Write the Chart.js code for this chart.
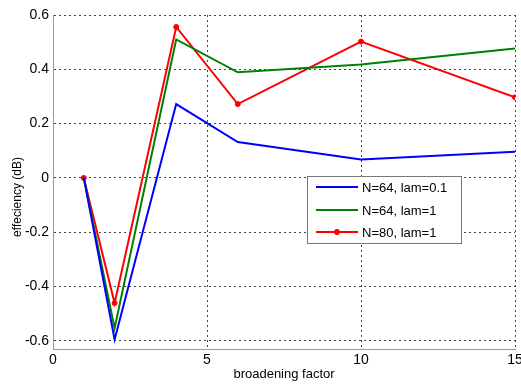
<!DOCTYPE html>
<html>
<head>
<meta charset="utf-8">
<script src="https://cdn.jsdelivr.net/npm/chart.js@4"></script>
<style>
  html, body { margin: 0; padding: 0; background: #fff; }
  #wrap { width: 521px; height: 387px; position: relative; }
</style>
</head>
<body>
<div id="wrap"><canvas id="js-eff-chart" width="521" height="387"></canvas></div>
<script>
// values
var xValues = [1, 2, 4, 6, 10, 15]
var blueValues = [0, -0.595, 0.272, 0.132, 0.068, 0.096]
var greenValues = [0, -0.553, 0.51, 0.389, 0.418, 0.477]
var redValues = [0, -0.461, 0.556, 0.272, 0.502, 0.297]
var seriesLabels = ["N=64, lam=0.1", "N=64, lam=1", "N=80, lam=1"]
var xTicks = [0, 5, 10, 15]
var yTicks = [-0.6, -0.4, -0.2, 0, 0.2, 0.4, 0.6]
var yTitle = "effeciency (dB)"

function toPoints(ys) {
  return ys.map(function (y, i) { return { x: xValues[i], y: y } })
}

var fam = "'Liberation Sans', Arial, sans-serif"
var tickFont = { family: fam, size: 14 }

// legend box + y title drawn by hand, matlab style
var boxLegend = {
  id: "boxLegend",
  afterDraw: function (chart) {
    var c = chart.ctx
    var x0 = 307, y0 = 176, w = 154, h = 67
    c.save()
    c.fillStyle = "#fff"
    c.fillRect(x0, y0, w, h)
    c.strokeStyle = "#777"
    c.lineWidth = 1
    c.strokeRect(x0 + 0.5, y0 + 0.5, w, h)
    var rows = [y0 + 11, y0 + 34, y0 + 56]
    chart.data.datasets.forEach(function (ds, i) {
      var ry = rows[i]
      c.strokeStyle = ds.borderColor
      c.lineWidth = 2
      c.beginPath()
      c.moveTo(x0 + 9, ry)
      c.lineTo(x0 + 51, ry)
      c.stroke()
      if (ds.pointRadius > 0) {
        c.fillStyle = ds.borderColor
        c.beginPath()
        c.arc(x0 + 30, ry, 3, 0, Math.PI * 2)
        c.fill()
      }
      c.fillStyle = "#000"
      c.font = "13px " + fam
      c.textBaseline = "middle"
      c.fillText(ds.label, x0 + 55, ry + 1)
    })
    // y axis title
    c.translate(18, 197)
    c.rotate(-Math.PI / 2)
    c.font = "12px " + fam
    c.textAlign = "center"
    c.textBaseline = "middle"
    c.fillStyle = "#000"
    c.fillText(yTitle, 0, 0)
    c.restore()
  }
}

var ctx = document.getElementById("js-eff-chart")

var chart = new Chart(ctx,
  {
    type: "line",
    data: {
      datasets: [
        {
          label: seriesLabels[0],
          data: toPoints(blueValues),
          borderColor: "rgb(0, 0, 255)",
          borderWidth: 2,
          pointRadius: 0,
          tension: 0
        },
        {
          label: seriesLabels[1],
          data: toPoints(greenValues),
          borderColor: "rgb(0, 128, 0)",
          borderWidth: 2,
          pointRadius: 0,
          tension: 0
        },
        {
          label: seriesLabels[2],
          data: toPoints(redValues),
          borderColor: "rgb(255, 0, 0)",
          backgroundColor: "rgb(255, 0, 0)",
          borderWidth: 2,
          pointRadius: 2.5,
          pointBorderWidth: 1,
          tension: 0
        }
      ]
    },
    options: {
      responsive: false,
      animation: false,
      layout: { padding: { top: 15, right: 6, left: 0, bottom: 5 } },
      plugins: {
        legend: { display: false },
        tooltip: { enabled: false }
      },
      scales: {
        x: {
          type: "linear",
          min: 0,
          max: 15,
          afterBuildTicks: function (s) { s.ticks = xTicks.map(function (v) { return { value: v } }) },
          afterFit: function (s) { s.height = 33; s.paddingRight = 0 },
          grid: { color: "#444", drawTicks: false },
          border: { color: "#999", width: 1, dash: [2, 3] },
          ticks: { color: "#000", font: tickFont, padding: 3, maxRotation: 0, autoSkip: false },
          title: { display: true, text: "broadening factor", color: "#000", font: { family: fam, size: 13 }, padding: 0 }
        },
        y: {
          min: -0.63,
          max: 0.6,
          afterBuildTicks: function (s) { s.ticks = yTicks.map(function (v) { return { value: v } }) },
          afterFit: function (s) { s.width = 53 },
          grid: { color: "#444", drawTicks: false },
          border: { color: "#999", width: 1, dash: [2, 3] },
          ticks: {
            color: "#000",
            font: tickFont,
            padding: 4,
            autoSkip: false,
            callback: function (v) { return Math.abs(v) < 1e-9 ? "0" : v.toFixed(1) }
          }
        }
      }
    },
    plugins: [boxLegend]
  })
</script>
</body>
</html>
